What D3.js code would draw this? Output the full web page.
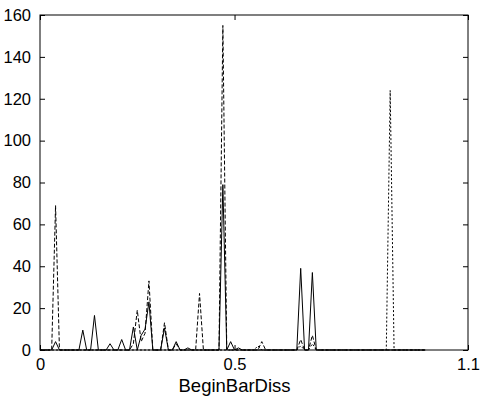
<!DOCTYPE html>
<html><head><meta charset="utf-8">
<script src="https://cdn.jsdelivr.net/npm/d3@7"></script>
<style>body{margin:0;background:#fff}svg{display:block}text{font-family:"Liberation Sans",Arial,Helvetica,sans-serif;fill:#000}</style>
</head><body><svg id="c" width="483" height="399"></svg>
<script>
// x grid: 0.00 .. 0.99 step 0.01
const xValues = [0,0.01,0.02,0.03,0.04,0.05,0.06,0.07,0.08,0.09,0.10,0.11,0.12,0.13,0.14,0.15,0.16,0.17,0.18,0.19,0.20,0.21,0.22,0.23,0.24,0.25,0.26,0.27,0.28,0.29,0.30,0.31,0.32,0.33,0.34,0.35,0.36,0.37,0.38,0.39,0.40,0.41,0.42,0.43,0.44,0.45,0.46,0.47,0.48,0.49,0.50,0.51,0.52,0.53,0.54,0.55,0.56,0.57,0.58,0.59,0.60,0.61,0.62,0.63,0.64,0.65,0.66,0.67,0.68,0.69,0.70,0.71,0.72,0.73,0.74,0.75,0.76,0.77,0.78,0.79,0.80,0.81,0.82,0.83,0.84,0.85,0.86,0.87,0.88,0.89,0.90,0.91,0.92,0.93,0.94,0.95,0.96,0.97,0.98,0.99];
const solidSeries = [0,0,0,0,4,0,0,0,0,0, 0,9.5,0,0,16.5,0,0,0,3,0, 0,5,0,0,11,0,7,10,23,0, 0,0,10.5,0,0,4,0,0,1,0, 0,0,0,0,0,0,0,79,0,4, 0,1,0,0,0,0,0,0,0,0, 0,0,0,0,0,0,0,39,0,0, 37,0,0,0,0,0,0,0,0,0, 0,0,0,0,0,0,0,0,0,0, 0,0,0,0,0,0,0,0,0,0];
const dashedSeries = [0,0,0,0,69,0,0,0,0,0, 0,0,0,0,0,0,0,0,0,0, 0,0,0,0,3,19,4,8,33,0, 0,0,13,0,0,3,0,0,0,0, 0,27,0,0,0,0,0,155,0,0, 0,0,0,0,0,0,0,4,0,0, 0,0,0,0,0,0,0,5,0,0, 7,0,0,0,0,0,0,0,0,0, 0,0,0,0,0,0,0,0,0,0, 0,0,0,0,0,0,0,0,0,0];
const dottedSeries = [0,0,0,0,0,0,0,0,0,0, 0,0,0,0,0,0,0,0,0,0, 0,0,0,0,0,0,0,0,0,0, 0,0,0,0,0,0,0,0,0,0, 0,0,0,0,0,0,0,0,0,0, 0,0,0,0,0,0,2,0,0,0, 0,0,0,0,0,0,0,2,0,0, 3,0,0,0,0,0,0,0,0,0, 0,0,0,0,0,0,0,0,0,0, 124,0,0,0,0,0,0,0,0,0];
const xTicks = [0, 0.5, 1.1];
const xTickLabels = ["0", "0.5", "1.1"];
const yTicks = [0,20,40,60,80,100,120,140,160];
const xLabel = "BeginBarDiss";

const svg = d3.select("#c");
const L = 40, R = 468, T = 15, B = 350;
const x = d3.scaleLinear().domain([0, 1.1]).range([L, R]);
const y = d3.scaleLinear().domain([0, 160]).range([B, T]);

const line = d3.line().x((d,i)=>x(xValues[i])).y(d=>y(d));
const g = svg.append("g");
[[dottedSeries,"2,2"],[dashedSeries,"4,2"],[solidSeries,null]].forEach(([s,da])=>{
  g.append("path").datum(s).attr("d", line).attr("fill","none").attr("stroke","#000")
   .attr("stroke-width",1).attr("stroke-dasharray", da);
});

// box
svg.append("rect").attr("x",L).attr("y",T).attr("width",R-L).attr("height",B-T)
  .attr("fill","none").attr("stroke","#000").attr("stroke-width",1);

svg.append("g").attr("transform",`translate(0,${B})`)
  .call(d3.axisBottom(x).tickValues(xTicks).tickFormat((d,i)=>xTickLabels[i]).tickSizeInner(-5).tickSizeOuter(0).tickPadding(8));
svg.append("g").attr("transform",`translate(0,${T})`)
  .call(d3.axisTop(x).tickValues(xTicks).tickFormat("").tickSizeInner(-5).tickSizeOuter(0));
svg.append("g").attr("transform",`translate(${L},0)`)
  .call(d3.axisLeft(y).tickValues(yTicks).tickSizeInner(-5).tickSizeOuter(0).tickPadding(9));
svg.append("g").attr("transform",`translate(${R},0)`)
  .call(d3.axisRight(y).tickValues(yTicks).tickFormat("").tickSizeInner(-5).tickSizeOuter(0));
svg.selectAll(".domain").remove();
svg.selectAll(".tick line").attr("stroke","#000");
svg.selectAll(".tick text").attr("font-size",16.5).attr("font-family","'Liberation Sans',Arial,sans-serif").attr("fill","#000");

svg.append("text").attr("x", x(0.5)).attr("y", 392).attr("text-anchor","middle")
  .attr("font-size",18.5).text(xLabel);
</script></body></html>
